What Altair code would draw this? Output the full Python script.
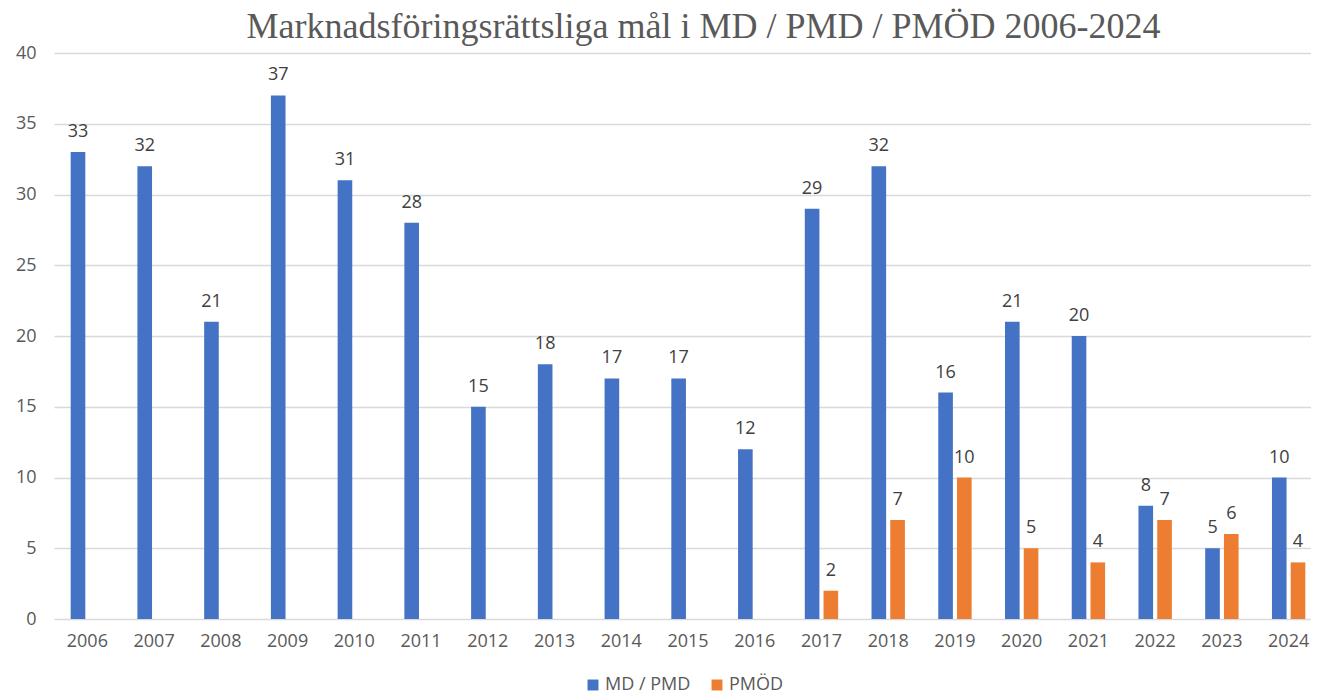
import altair as alt
import pandas as pd

years = [str(y) for y in range(2006, 2025)]
md_pmd = [33, 32, 21, 37, 31, 28, 15, 18, 17, 17, 12, 29, 32, 16, 21, 20, 8, 5, 10]
pmod = [None] * 11 + [2, 7, 10, 5, 4, 7, 6, 4]
series = ["MD / PMD", "PMÖD"]
colors = ["#4472C4", "#ED7D31"]
y_ticks = [0, 5, 10, 15, 20, 25, 30, 35, 40]
title_text = "Marknadsföringsrättsliga mål i MD / PMD / PMÖD 2006-2024"

rows = []
for y, a, b in zip(years, md_pmd, pmod):
    rows.append({"year": y, "series": series[0], "value": a})
    if b is not None:
        rows.append({"year": y, "series": series[1], "value": b})
df = pd.DataFrame(rows)

FONT = "Open Sans"
GRAY = "#595959"

base = alt.Chart(df).encode(
    x=alt.X(
        "year:N",
        sort=years,
        scale=alt.Scale(paddingInner=0.5, paddingOuter=0.25, range=[0, 1268]),
        axis=alt.Axis(
            title=None, labelAngle=0, ticks=False, domain=False, grid=False,
            labelFontSize=18, labelColor=GRAY, labelFont=FONT, labelPadding=13,
        ),
    ),
    xOffset=alt.XOffset("series:N", sort=series, scale=alt.Scale(paddingInner=0.22)),
    y=alt.Y(
        "value:Q",
        scale=alt.Scale(domain=[0, 40], nice=False),
        axis=alt.Axis(
            title=None, values=y_ticks, ticks=False, domain=False,
            labelFontSize=18, labelColor=GRAY, labelFont=FONT, labelPadding=18,
            gridColor="#d9d9d9", gridWidth=1.4,
        ),
    ),
)

bars = base.mark_bar().encode(
    color=alt.Color(
        "series:N",
        sort=series,
        scale=alt.Scale(domain=series, range=colors),
        legend=alt.Legend(
            title=None, orient="none", direction="horizontal",
            legendX=530, legendY=623, symbolType="square", symbolSize=120,
            symbolStrokeWidth=0, labelFontSize=18, labelColor=GRAY, labelFont=FONT,
            columnPadding=17, labelOffset=3, padding=0,
        ),
    ),
)

labels = base.mark_text(
    baseline="alphabetic", dy=-15, fontSize=18, font=FONT, color="#404040"
).encode(text="value:Q")

chart = (
    alt.layer(bars, labels)
    .properties(
        width=1257,
        height=566,
        autosize="none",
        padding={"left": 46, "top": 45, "right": 0, "bottom": 73},
        title=alt.Title(
            title_text, font="Liberation Serif", fontSize=36, color=GRAY,
            fontWeight="normal", anchor="middle", frame="group",
            offset=3, dx=21, dy=5,
        ),
    )
    .configure_view(stroke=None)
)

chart.save("out.html", embed_options={"renderer": "svg", "actions": False})
